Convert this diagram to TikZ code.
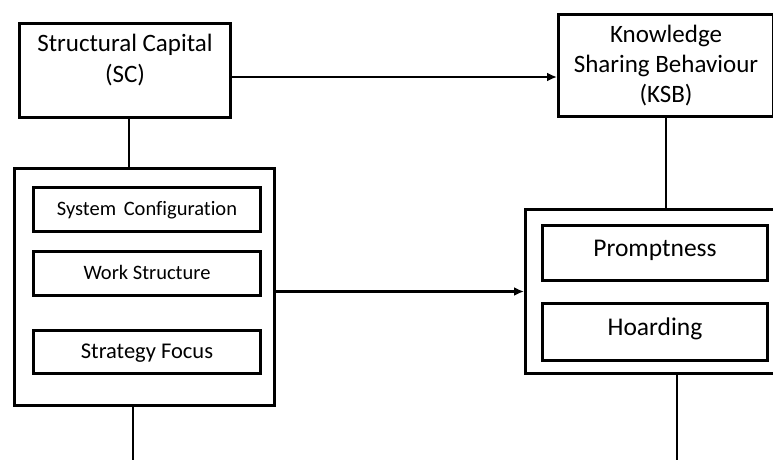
\documentclass[tikz,border=0pt]{standalone}
\usepackage{fontspec}
\setmainfont{Carlito}[Ligatures=NoCommon]
\usetikzlibrary{arrows.meta, positioning}

\begin{document}
\begin{tikzpicture}[
        x=1pt, y=-1pt,
        node distance=17pt,
        block/.style={rectangle, draw, line width=3pt,
                      align=center, inner sep=0pt},
        group/.style={rectangle, draw, line width=3pt, inner sep=0pt},
        item/.style={block, minimum width=227pt, text height=14pt, text depth=2.8pt},
        arrow/.style={-{Latex[length=10pt,width=9pt]}, line width=2.6pt},
        link/.style={line width=2.8pt},
    ]
    \useasboundingbox (0,0) rectangle (773,459);

    % outer groups
    \node[group, minimum width=260pt, minimum height=237pt] (scgrp) at (144.5,287) {};
    \node[group, minimum width=259pt, minimum height=164pt] (ksbgrp) at (655,291.5) {};

    \node[block, minimum width=211pt, minimum height=94pt,
          label={[font=\fontsize{25}{31}\selectfont, align=center, yshift=10pt]center:Structural Capital\\(SC)}] (sc) at (125,70.5) {};
    \node[block, minimum width=215pt, minimum height=102pt,
          font=\fontsize{25}{30}\selectfont] (ksb) at (666,65.5) {Knowledge\\Sharing Behaviour\\(KSB)};

    \node[item, minimum height=44pt, font=\fontsize{20.5}{24}\selectfont] (syscfg) at (147,209.5) {System\hspace{3pt} Configuration};
    \node[item, minimum height=44pt, font=\fontsize{20.5}{24}\selectfont, below=of syscfg] (work) {Work Structure};
    \node[item, minimum height=43pt, font=\fontsize{22.5}{27}\selectfont, text height=15pt, text depth=1.5pt, below=32pt of work] (strat) {Strategy Focus};

    \node[item, minimum width=225pt, minimum height=55pt, font=\fontsize{25.5}{30}\selectfont, text height=17pt, text depth=10pt] (prompt) at (655,253) {Promptness};
    \node[item, minimum width=225pt, minimum height=57pt, font=\fontsize{25.5}{30}\selectfont, text height=17pt, text depth=10pt, below=20pt of prompt] (hoard) {Hoarding};

    \coordinate (scend) at (133,470);
    \coordinate (ksbend) at (677,470);

    \draw[link] ([xshift=4pt]sc.south) -- ([xshift=4pt]sc.south |- scgrp.north);
    \draw[link] (ksb.south) -- (ksb.south |- ksbgrp.north);
    \draw[arrow] ([yshift=-6.5pt]sc.east) -- ([yshift=-6.5pt]sc.east -| ksb.west);
    \draw[arrow] (scgrp.east |- ksbgrp.west) -- (ksbgrp.west);

    % lines leaving the picture
    \draw[link] (scend |- scgrp.south) -- (scend);
    \draw[link] (ksbend |- ksbgrp.south) -- (ksbend);
\end{tikzpicture}
\end{document}
